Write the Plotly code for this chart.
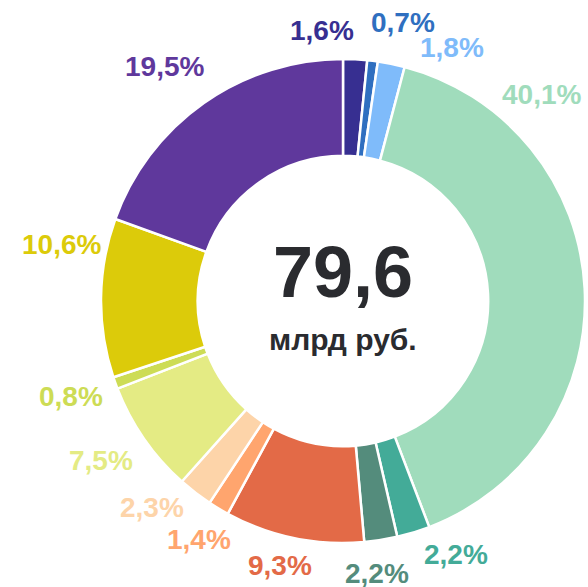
import plotly.graph_objects as go

# Data
labels_txt = ["1,6%", "0,7%", "1,8%", "40,1%", "2,2%", "2,2%", "9,3%",
              "1,4%", "2,3%", "7,5%", "0,8%", "10,6%", "19,5%"]
shares = [1.6, 0.7, 1.8, 40.1, 2.2, 2.2, 9.3, 1.4, 2.3, 7.5, 0.8, 10.6, 19.5]
colors = ["#372F91", "#2F6FC0", "#7FBBFA", "#A0DCBC", "#43AB98", "#548C7C",
          "#E36A47", "#FFA56E", "#FDD4A9", "#E4EB84", "#CDDC55", "#DCCB0A", "#5F389C"]
total_value = "79,6"
total_unit = "млрд руб."

# Label positions (pixels in the 588x587 page)
label_px = [(322, 30), (403, 22), (452, 47), (541, 94), (456, 554), (377, 573),
            (280, 565), (199, 539), (152, 507), (101, 460), (71, 396), (61, 244), (164, 66)]

W, H = 588, 587

# donut box in page pixels: center (343, 301), outer radius 242
CX, CY, R = 343, 301, 242
ML = CX - R
MT = CY - R
MR = W - ML - 2 * R
MB = H - MT - 2 * R
PW, PH = 2 * R, 2 * R

FONT = "Liberation Sans, Arial, sans-serif"


def to_paper(px, py):
    return (px - ML) / PW, (H - MB - py) / PH


fig = go.Figure(go.Pie(
    values=shares,
    labels=[f"s{i}" for i in range(len(shares))],
    marker=dict(colors=colors, line=dict(color="white", width=2.5)),
    hole=0.6,
    sort=False,
    direction="clockwise",
    rotation=0,
    textinfo="none",
    hoverinfo="skip",
    showlegend=False,
))

annotations = []
for txt, col, (px, py) in zip(labels_txt, colors, label_px):
    x, y = to_paper(px, py)
    annotations.append(dict(
        x=x, y=y, xref="paper", yref="paper",
        text=f"<b>{txt}</b>", showarrow=False, xanchor="center", yanchor="middle",
        font=dict(family=FONT, size=28, color=col),
    ))

x, y = to_paper(CX, 272)
annotations.append(dict(
    x=x, y=y, xref="paper", yref="paper",
    text=f"<b>{total_value}</b>", showarrow=False, xanchor="center", yanchor="middle",
    font=dict(family=FONT, size=72, color="#2A2B2F"),
))
x, y = to_paper(CX, 339)
annotations.append(dict(
    x=x, y=y, xref="paper", yref="paper",
    text=f"<b>{total_unit}</b>", showarrow=False, xanchor="center", yanchor="middle",
    font=dict(family=FONT, size=30, color="#2A2B2F"),
))

fig.update_layout(
    width=W, height=H,
    margin=dict(l=ML, r=MR, t=MT, b=MB),
    paper_bgcolor="white", plot_bgcolor="white",
    annotations=annotations,
)

fig.write_html(
    "out.html",
    config={"displayModeBar": False},
    post_script="document.body.style.margin='0';document.body.style.overflow='hidden';",
)
